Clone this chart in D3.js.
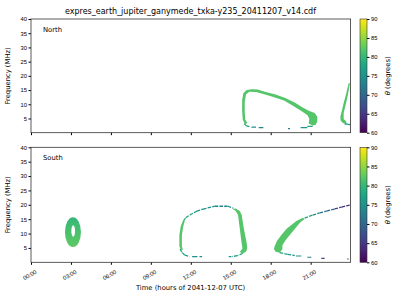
<!DOCTYPE html>
<html>
<head>
<meta charset="utf-8">
<script src="https://cdn.jsdelivr.net/npm/d3@7"></script>
<style>
  body { margin: 0; background: #fff; }
  svg { font-family: "DejaVu Sans", sans-serif; }
</style>
</head>
<body>
<svg width="400" height="300"></svg>
<script>
// chart text + ticks
const titleText = "expres_earth_jupiter_ganymede_txka-y235_20411207_v14.cdf";
const hourTicks = [0, 3, 6, 9, 12, 15, 18, 21];
const hourLabels = ["00:00", "03:00", "06:00", "09:00", "12:00", "15:00", "18:00", "21:00"];
const freqTicks = [5, 10, 15, 20, 25, 30, 35, 40];
const thetaTicks = [60, 65, 70, 75, 80, 85, 90];

// emission regions, [hour, MHz] outlines
const northLoopA = [
  [16.09, 2.8], [15.9, 4.6], [15.85, 8.1], [15.86, 11.6], [15.95, 14.0], [16.2, 15.0],
  [16.58, 15.3], [17.03, 15.2], [17.55, 14.4], [18.3, 13.5], [19.05, 12.3], [19.8, 10.6],
  [20.4, 8.9], [20.9, 7.6], [21.3, 6.9], [21.5, 5.6], [21.5, 3.9], [21.38, 2.8], [21.15, 2.5],
  [20.85, 3.2], [20.9, 4.9], [20.75, 6.2], [20.3, 7.6], [19.7, 9.4], [19.0, 11.3], [18.2, 12.6],
  [17.45, 13.6], [16.9, 14.3], [16.4, 14.4], [16.15, 13.5], [16.05, 10.9], [16.05, 7.4],
  [16.09, 4.6], [16.24, 3.5]
];
const northLoopATheta = 82;

const northLoopB = [
  [23.85, 17.44], [23.68, 13.93], [23.48, 10.42], [23.33, 7.47], [23.23, 5.72], [23.25, 4.32],
  [23.42, 3.4], [23.68, 3.05], [23.68, 3.96], [23.48, 4.8], [23.48, 6.91], [23.6, 9.23],
  [23.75, 12.18], [23.87, 15.09], [23.95, 17.44]
];
const northLoopBTheta = 82;

// thin tracks: [hour, MHz, theta]
const northTracks = [
  [[16.0, 3.2, 79], [16.15, 2.5, 77], [16.4, 2.15, 76]],
  [[23.55, 3.15, 77], [23.8, 2.9, 76], [23.98, 2.85, 75]]
];
// short pieces at the bottom of the loops: [hour0, hour1, MHz, theta]
const northDashes = [
  [16.55, 16.9, 1.95, 75], [17.1, 17.45, 1.8, 74], [19.3, 19.45, 1.4, 73],
  [20.25, 20.75, 1.8, 75], [20.75, 21.15, 2.2, 77]
];

const southOval = { hour: 3.15, mhz: 10.5, dHour: 0.6, dMhz: 5.2, thetaTop: 80, thetaBottom: 82.5 };
const southOvalHole = { hour: 3.17, mhz: 10.9, dHour: 0.14, dMhz: 2.0 };

const southLoopLeft = [
  [11.4, 14.37], [11.25, 12.63], [11.14, 9.5], [11.14, 5.67], [11.25, 4.28],
  [11.4, 4.28], [11.33, 5.67], [11.33, 9.5], [11.44, 12.63], [11.55, 14.37]
];
const southLoopRight = [
  [15.375, 18.71], [15.675, 17.84], [15.825, 16.45], [15.975, 11.93], [16.18, 7.17],
  [16.24, 4.97], [16.16, 3.76], [15.9, 3.06], [15.675, 3.58], [15.88, 4.8], [15.8, 7.17],
  [15.675, 11.83], [15.55, 16.45], [15.375, 17.84], [15.15, 18.54]
];
const southLoopB = [
  [20.42, 15.51], [19.93, 14.37], [19.55, 12.97], [19.18, 11.58], [18.8, 9.5], [18.47, 7.41],
  [18.28, 5.43], [18.25, 4.52], [18.38, 3.69], [18.68, 3.34], [18.88, 4.63], [18.88, 6.02],
  [19.13, 7.76], [19.48, 9.74], [19.88, 12.03], [20.23, 13.91], [20.55, 15.06]
];
const southLoopTheta = 82;

const southTracks = [
  [[11.45, 14.4, 79], [11.62, 15.5, 78], [11.93, 16.45, 77], [12.45, 17.8, 76], [12.92, 18.5, 75],
   [13.8, 19.5, 74], [14.78, 19.5, 75], [15.2, 18.8, 76]],
  [[11.2, 4.6, 79], [11.35, 3.3, 78], [11.55, 2.5, 77], [11.9, 2.0, 76]],
  [[15.9, 3.1, 78], [15.5, 2.3, 77], [15.1, 2.0, 76]],
  [[18.68, 3.34, 78], [19.28, 2.78, 76], [19.8, 2.37, 75]],
  [[20.55, 15.4, 77], [21.15, 16.45, 75], [21.68, 17.15, 72], [22.2, 17.84, 69],
   [22.8, 18.54, 66], [23.33, 19.23, 64], [23.95, 19.95, 62]]
];
const southDashes = [
  [12.1, 12.5, 1.95, 75], [12.65, 12.85, 1.95, 75], [14.85, 15.05, 1.95, 75],
  [19.9, 20.3, 2.2, 75], [20.75, 21.05, 1.75, 72], [21.8, 22.05, 1.4, 66], [23.75, 23.85, 1.15, 62]
];

const svg = d3.select("svg");
const defs = svg.append("defs");
const x = d3.scaleLinear().domain([0, 24]).range([31, 350.6]);
const color = d3.scaleSequential(d3.interpolateViridis).domain([60, 90]);

// colorbar gradient
const grad = defs.append("linearGradient")
  .attr("id", "cbar").attr("x1", 0).attr("x2", 0).attr("y1", 1).attr("y2", 0);
d3.range(0, 1.001, 0.05).forEach(t => {
  grad.append("stop").attr("offset", t).attr("stop-color", d3.interpolateViridis(t));
});

svg.append("text")
  .attr("x", 190.5).attr("y", 13.5)
  .attr("text-anchor", "middle").attr("font-size", "8px")
  .text(titleText);

function drawPanel(top, bottom, name, shapes, tracks, dashes, oval, showLabels) {
  const y = d3.scaleLinear().domain([0, 40]).range([bottom, top]);
  const g = svg.append("g");
  const clipId = "clip-" + name;
  defs.append("clipPath").attr("id", clipId)
    .append("rect").attr("x", x(0)).attr("y", top)
    .attr("width", x(24) - x(0)).attr("height", bottom - top);

  const plot = g.append("g").attr("clip-path", `url(#${clipId})`);
  const area = d3.line().x(d => x(d[0])).y(d => y(d[1])).curve(d3.curveLinearClosed);

  if (oval) {
    const og = defs.append("linearGradient").attr("id", "oval-" + name)
      .attr("x1", 0).attr("x2", 0).attr("y1", 0).attr("y2", 1);
    og.append("stop").attr("offset", 0).attr("stop-color", color(oval.thetaTop));
    og.append("stop").attr("offset", 1).attr("stop-color", color(oval.thetaBottom));
    plot.append("ellipse")
      .attr("cx", x(oval.hour)).attr("cy", y(oval.mhz))
      .attr("rx", x(oval.dHour) - x(0)).attr("ry", y(0) - y(oval.dMhz))
      .attr("fill", `url(#oval-${name})`);
    plot.append("ellipse")
      .attr("cx", x(southOvalHole.hour)).attr("cy", y(southOvalHole.mhz))
      .attr("rx", x(southOvalHole.dHour) - x(0)).attr("ry", y(0) - y(southOvalHole.dMhz))
      .attr("fill", "#fff");
  }

  shapes.forEach(s => {
    plot.append("path").attr("d", area(s.pts)).attr("fill", color(s.theta));
  });

  tracks.forEach(tr => {
    d3.pairs(tr).forEach(([a, b]) => {
      plot.append("line")
        .attr("x1", x(a[0])).attr("y1", y(a[1]))
        .attr("x2", x(b[0])).attr("y2", y(b[1]))
        .attr("stroke", color(a[2])).attr("stroke-width", 1.3)
        .attr("stroke-dasharray", "3.5,1.2");
    });
  });

  dashes.forEach(d => {
    plot.append("line")
      .attr("x1", x(d[0])).attr("x2", x(d[1]))
      .attr("y1", y(d[2])).attr("y2", y(d[2]))
      .attr("stroke", color(d[3])).attr("stroke-width", 1.2);
  });

  // axes
  const yAxis = g.append("g").attr("transform", `translate(${x(0)},0)`)
    .call(d3.axisLeft(y).tickValues(freqTicks).tickSize(2.5).tickPadding(1.5));
  yAxis.select(".domain").remove();
  yAxis.selectAll("text").attr("font-size", "5.8px").attr("fill", "#000");

  const xAxis = g.append("g").attr("transform", `translate(0,${bottom})`)
    .call(d3.axisBottom(x).tickValues(hourTicks).tickSize(2.5)
      .tickFormat((d, i) => showLabels ? hourLabels[i] : ""));
  xAxis.select(".domain").remove();
  xAxis.selectAll("text")
    .attr("font-size", "5.8px").attr("fill", "#000")
    .attr("text-anchor", "end")
    .attr("transform", "translate(1,3) rotate(-30)")
    .attr("dy", "0.6em");

  g.append("rect")
    .attr("x", x(0)).attr("y", top)
    .attr("width", x(24) - x(0)).attr("height", bottom - top)
    .attr("fill", "none").attr("stroke", "#333").attr("stroke-width", 0.8);

  g.append("text")
    .attr("x", 43).attr("y", top + 12.5)
    .attr("font-size", "6.8px").text(name);

  g.append("text")
    .attr("transform", `translate(10,${(top + bottom) / 2}) rotate(-90)`)
    .attr("text-anchor", "middle").attr("font-size", "6.8px")
    .text("Frequency (MHz)");

  // colorbar
  const c = d3.scaleLinear().domain([60, 90]).range([bottom, top]);
  g.append("rect")
    .attr("x", 360).attr("y", top).attr("width", 7).attr("height", bottom - top)
    .attr("fill", "url(#cbar)").attr("stroke", "#333").attr("stroke-width", 0.6);
  const cAxis = g.append("g").attr("transform", "translate(367,0)")
    .call(d3.axisRight(c).tickValues(thetaTicks).tickSize(2.5).tickPadding(1.5));
  cAxis.select(".domain").remove();
  cAxis.selectAll("text").attr("font-size", "5.8px").attr("fill", "#000");

  const lab = g.append("text")
    .attr("transform", `translate(390,${(top + bottom) / 2}) rotate(-90)`)
    .attr("text-anchor", "middle").attr("font-size", "6.8px");
  lab.append("tspan").attr("font-style", "italic").text("θ");
  lab.append("tspan").text(" (degrees)");
}

drawPanel(19, 132.7, "North",
  [{ pts: northLoopA, theta: northLoopATheta }, { pts: northLoopB, theta: northLoopBTheta }],
  northTracks, northDashes, null, false);

drawPanel(147.3, 262.3, "South",
  [{ pts: southLoopLeft, theta: southLoopTheta }, { pts: southLoopRight, theta: southLoopTheta },
   { pts: southLoopB, theta: southLoopTheta }],
  southTracks, southDashes, southOval, true);

svg.append("text")
  .attr("x", 190.5).attr("y", 290)
  .attr("text-anchor", "middle").attr("font-size", "6.8px")
  .text("Time (hours of 2041-12-07 UTC)");
</script>
</body>
</html>
